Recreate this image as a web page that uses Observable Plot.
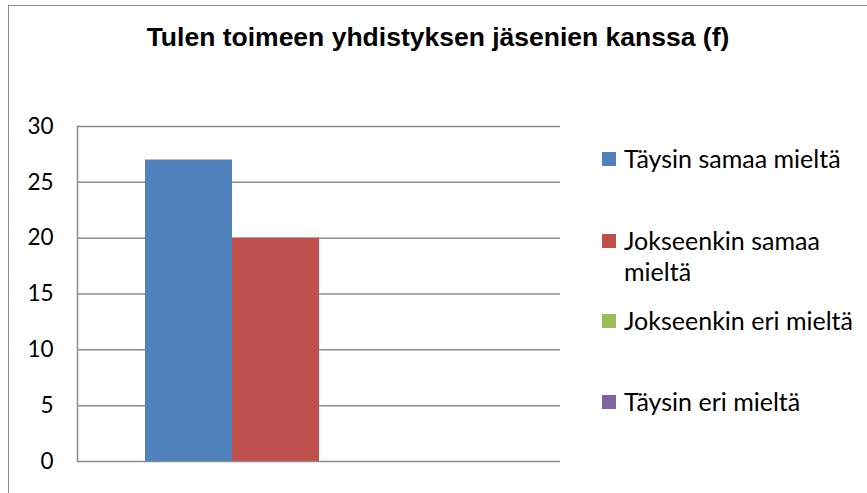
<!DOCTYPE html>
<html>
<head>
<meta charset="utf-8">
<script src="https://cdn.jsdelivr.net/npm/d3@7"></script>
<script src="https://cdn.jsdelivr.net/npm/@observablehq/plot@0.6"></script>
<style>
  html, body { margin: 0; padding: 0; background: #fff; }
  #wrap { position: relative; width: 867px; height: 493px; overflow: hidden; }
  #frame { position: absolute; left: 8px; top: 5px; width: 900px; height: 600px; border-left: 1.5px solid #8c8c8c; border-top: 1.5px solid #8c8c8c; box-sizing: border-box; }
  #title { position: absolute; left: 0; top: 22px; width: 876px; text-align: center; font-family: "Liberation Sans", Arial, sans-serif; font-weight: bold; font-size: 26.5px; color: #000; }
  #legend { position: absolute; left: 602px; top: 0; font-family: Lato, "Noto Sans", sans-serif; font-size: 25px; color: #000; }
  .item { position: absolute; left: 0; white-space: nowrap; }
  .sw { position: absolute; left: 0; width: 14px; height: 14px; }
  .lab { position: absolute; left: 22px; line-height: 31px; }
  svg { position: absolute; left: 0; top: 0; }
</style>
</head>
<body>
<div id="wrap">
  <div id="frame"></div>
  <div id="title"></div>
  <div id="legend"></div>
</div>
<script>
const title = "Tulen toimeen yhdistyksen jäsenien kanssa (f)";
const series = ["Täysin samaa mieltä", "Jokseenkin samaa mieltä", "Jokseenkin eri mieltä", "Täysin eri mieltä"];
const legendLines = [["Täysin samaa mieltä"], ["Jokseenkin samaa", "mieltä"], ["Jokseenkin eri mieltä"], ["Täysin eri mieltä"]];
const values = [27, 20, 0, 0];
const colors = ["#4F81BD", "#C0504D", "#9BBB59", "#8064A2"];
const yTicks = [0, 5, 10, 15, 20, 25, 30];

const data = series.map((s, i) => ({series: s, value: values[i]}));

const chart = Plot.plot({
  width: 867,
  height: 493,
  marginLeft: 77,
  marginRight: 307,
  marginTop: 126,
  marginBottom: 32,
  style: {background: "transparent", fontFamily: "Lato, 'Noto Sans', sans-serif", fontSize: "22.5px", color: "#000"},
  x: {type: "band", domain: series, paddingInner: 0, paddingOuter: 0.75, axis: null},
  y: {domain: [0, 30], ticks: yTicks, tickSize: 0, tickPadding: 24, label: null, tickFormat: d => String(d)},
  color: {domain: series, range: colors},
  marks: [
    Plot.ruleY(yTicks, {stroke: "#8c8c8c", strokeWidth: 1.5}),
    Plot.frame({anchor: "left", stroke: "#8c8c8c", strokeWidth: 1.5}),
    Plot.barY(data, {x: "series", y: "value", fill: "series"}),
    Plot.axisY({ticks: yTicks, tickSize: 0, tickPadding: 24, fill: "#000", fontSize: 22.5, label: null})
  ]
});
document.getElementById("wrap").appendChild(chart);
document.getElementById("title").textContent = title;

// legend built from the same series / colour arrays
const legendTops = [159, 241, 321, 402];
const legend = document.getElementById("legend");
legendLines.forEach((lines, i) => {
  const item = document.createElement("div");
  item.className = "item";
  item.style.top = (legendTops[i] - 16) + "px";
  const sw = document.createElement("div");
  sw.className = "sw";
  sw.style.background = colors[i];
  sw.style.top = "9px";
  const lab = document.createElement("div");
  lab.className = "lab";
  lab.innerHTML = lines.map(l => l.replace(/&/g, "&amp;")).join("<br>");
  item.appendChild(sw);
  item.appendChild(lab);
  legend.appendChild(item);
});
</script>
</body>
</html>
